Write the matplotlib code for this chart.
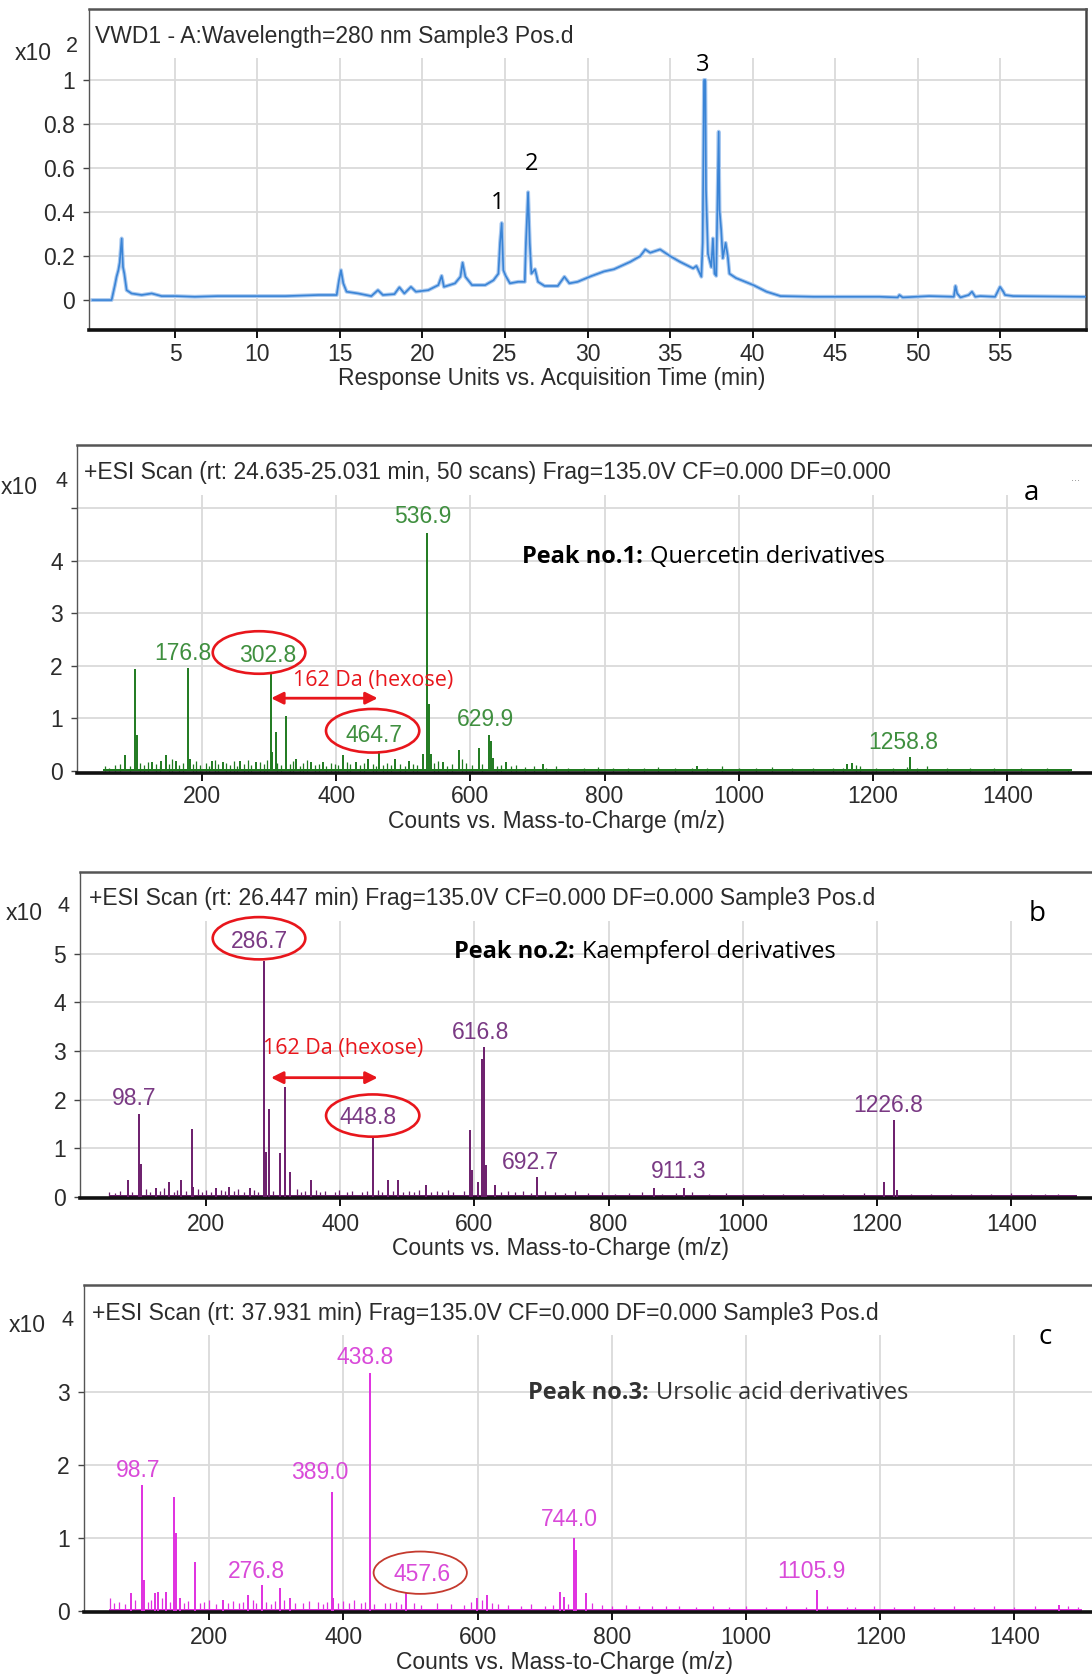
import matplotlib
matplotlib.use('Agg')
import matplotlib.pyplot as plt
from matplotlib.patches import Ellipse

W, H = 1092, 1679

# ---------------- data ----------------
# UV chromatogram (x10^2 response units vs. min)
chrom_time = [0.0, 1.16, 1.36, 1.46, 1.57, 1.65, 1.77, 1.85, 1.93, 2.07,
              2.37, 2.98, 3.59, 4.19, 5.0, 6.2, 7.6, 9.6, 11.7, 13.7,
              14.8, 14.94, 15.06, 15.2, 15.4, 16.1, 16.9, 17.3, 17.6, 18.3,
              18.6, 18.9, 19.3, 19.6, 20.35, 20.96, 21.16, 21.3, 21.97, 22.3,
              22.43, 22.6, 23.0, 23.8, 24.3, 24.6, 24.7, 24.8, 24.9, 25.04,
              25.3, 25.8, 26.2, 26.27, 26.4, 26.5, 26.6, 26.82, 27.0, 27.4,
              28.2, 28.6, 28.9, 29.4, 30.2, 31.0, 31.6, 32.6, 33.2, 33.5,
              33.8, 34.4, 35.0, 35.6, 36.4, 36.6, 36.9, 36.98, 37.06, 37.14,
              37.18, 37.3, 37.5, 37.6, 37.7, 37.8, 37.95, 38.0, 38.1, 38.2,
              38.37, 38.5, 38.6, 39.0, 40.05, 40.85, 41.7, 43.7, 47.7, 48.8,
              48.9, 49.1, 50.7, 52.2, 52.3, 52.4, 52.6, 53.1, 53.3, 53.5,
              53.8, 54.7, 55.0, 55.2, 55.3, 55.8, 59.9, 60.2]
chrom_resp = [0.0, 0.0, 0.068, 0.106, 0.136, 0.17, 0.28, 0.15, 0.12, 0.045,
              0.03, 0.023, 0.03, 0.018, 0.018, 0.015, 0.018, 0.018, 0.018, 0.023,
              0.023, 0.09, 0.136, 0.076, 0.038, 0.03, 0.018, 0.045, 0.023, 0.027,
              0.058, 0.03, 0.06, 0.038, 0.045, 0.068, 0.11, 0.06, 0.076, 0.106,
              0.17, 0.106, 0.068, 0.068, 0.09, 0.12, 0.26, 0.35, 0.136, 0.11,
              0.076, 0.083, 0.083, 0.26, 0.49, 0.26, 0.12, 0.14, 0.083, 0.064,
              0.064, 0.106, 0.076, 0.083, 0.108, 0.13, 0.14, 0.174, 0.20, 0.23,
              0.215, 0.23, 0.2, 0.174, 0.144, 0.155, 0.106, 0.26, 1.0, 1.0,
              0.5, 0.21, 0.15, 0.28, 0.12, 0.11, 0.765, 0.41, 0.32, 0.19,
              0.26, 0.2, 0.12, 0.1, 0.068, 0.038, 0.018, 0.015, 0.015, 0.012,
              0.023, 0.012, 0.018, 0.015, 0.064, 0.03, 0.012, 0.023, 0.038, 0.015,
              0.018, 0.015, 0.06, 0.038, 0.023, 0.018, 0.015, 0.015]
chrom_xticks = [5, 10, 15, 20, 25, 30, 35, 40, 45, 50, 55]
chrom_yticks = [0, 0.2, 0.4, 0.6, 0.8, 1.0]
chrom_yticklabels = ['0', '0.2', '0.4', '0.6', '0.8', '1']
peak_numbers = ['1', '2', '3']
peak_number_pos = [(24.56, 0.44), (26.6, 0.62), (37.0, 1.068)]

ms_xticks = [200, 400, 600, 800, 1000, 1200, 1400]

# Spectrum a (x10^4 counts)
a_mz = [85.7, 100.6, 103, 126, 139, 146, 161, 178.6, 182, 215,
        231, 256, 280, 303, 305, 310, 325, 340, 362, 380,
        410, 429, 448, 464, 487, 509, 529, 535.3, 538, 541,
        559, 583, 613, 628, 631, 633, 653, 708, 937, 1161,
        1168, 1255]
a_int = [0.29, 1.94, 0.67, 0.16, 0.19, 0.29, 0.19, 1.95, 0.22, 0.19,
         0.16, 0.19, 0.16, 1.84, 0.35, 0.73, 1.05, 0.22, 0.16, 0.16,
         0.29, 0.16, 0.22, 0.38, 0.22, 0.19, 0.32, 4.52, 1.27, 0.32,
         0.16, 0.39, 0.43, 0.67, 0.57, 0.25, 0.16, 0.13, 0.08, 0.13,
         0.15, 0.27]
a_noise_mz = [56, 62, 70, 78, 92, 108, 114, 119, 132, 137,
              151, 156, 166, 171, 186, 191, 197, 206, 211, 220,
              224, 236, 241, 247, 252, 262, 268, 273, 287, 292,
              297, 312, 318, 331, 336, 346, 351, 357, 368, 374,
              385, 392, 398, 403, 416, 421, 436, 441, 455, 459,
              470, 476, 481, 495, 503, 515, 520, 546, 551, 565,
              572, 588, 594, 602, 618, 640, 646, 660, 668, 682,
              695, 712, 728, 745, 770, 790, 812, 835, 858, 880,
              905, 930, 952, 975, 1000, 1025, 1050, 1080, 1110, 1140,
              1155, 1175, 1180, 1205, 1230, 1250, 1265, 1280, 1310, 1345,
              1380, 1420, 1460, 1490]
a_noise_int = [0.08, 0.06, 0.10, 0.12, 0.09, 0.14, 0.10, 0.16, 0.12, 0.09,
               0.13, 0.22, 0.10, 0.15, 0.12, 0.18, 0.10, 0.14, 0.09, 0.20,
               0.12, 0.15, 0.11, 0.18, 0.09, 0.13, 0.21, 0.10, 0.16, 0.12,
               0.20, 0.15, 0.10, 0.12, 0.18, 0.09, 0.14, 0.20, 0.11, 0.13,
               0.09, 0.15, 0.12, 0.10, 0.17, 0.12, 0.10, 0.14, 0.12, 0.09,
               0.11, 0.15, 0.10, 0.13, 0.09, 0.12, 0.10, 0.14, 0.18, 0.09,
               0.12, 0.22, 0.15, 0.10, 0.12, 0.09, 0.11, 0.08, 0.10, 0.07,
               0.09, 0.06, 0.08, 0.06, 0.05, 0.07, 0.05, 0.06, 0.05, 0.07,
               0.05, 0.06, 0.05, 0.08, 0.06, 0.05, 0.07, 0.05, 0.06, 0.05,
               0.06, 0.10, 0.08, 0.06, 0.05, 0.07, 0.06, 0.09, 0.06, 0.05,
               0.06, 0.05, 0.06, 0.04]
a_labels = ['536.9', '176.8', '302.8', '464.7', '629.9', '1258.8']
a_label_pos = [(529, 4.83), (171, 2.23), (298, 2.19), (457, 0.67), (622, 0.97), (1245, 0.54)]

# Spectrum b
b_mz = [84, 99.6, 103, 125, 145, 163, 179, 181, 215, 235,
        265, 287, 289.4, 294, 310, 318, 325, 356, 448.4, 471,
        486, 528, 594, 596.4, 605, 612, 615, 618, 631, 693,
        867, 912, 1211, 1226, 1230]
b_int = [0.34, 1.71, 0.68, 0.17, 0.31, 0.34, 1.40, 0.20, 0.17, 0.20,
         0.17, 4.86, 0.92, 1.81, 0.89, 2.26, 0.51, 0.34, 1.20, 0.34,
         0.34, 0.24, 1.37, 0.55, 0.31, 2.84, 3.08, 0.65, 0.24, 0.41,
         0.17, 0.17, 0.31, 1.58, 0.14]
b_noise_mz = [56, 64, 72, 90, 110, 116, 132, 138, 152, 157,
              170, 188, 194, 200, 208, 222, 228, 242, 248, 256,
              272, 278, 300, 335, 342, 348, 364, 370, 378, 392,
              398, 410, 418, 432, 440, 456, 462, 478, 494, 502,
              510, 518, 536, 544, 552, 560, 568, 584, 640, 650,
              660, 672, 684, 705, 720, 735, 750, 770, 790, 810,
              830, 850, 880, 900, 925, 950, 975, 1000, 1030, 1060,
              1090, 1120, 1150, 1180, 1250, 1280, 1310, 1340, 1370, 1400,
              1430, 1450, 1470, 1490]
b_noise_int = [0.10, 0.08, 0.12, 0.09, 0.15, 0.10, 0.12, 0.17, 0.10, 0.14,
               0.12, 0.15, 0.10, 0.13, 0.09, 0.14, 0.11, 0.12, 0.16, 0.10,
               0.13, 0.10, 0.12, 0.15, 0.10, 0.12, 0.14, 0.09, 0.12, 0.10,
               0.13, 0.10, 0.12, 0.09, 0.11, 0.14, 0.10, 0.12, 0.09, 0.11,
               0.10, 0.13, 0.09, 0.12, 0.10, 0.14, 0.10, 0.12, 0.10, 0.12,
               0.09, 0.11, 0.08, 0.12, 0.10, 0.08, 0.12, 0.07, 0.09, 0.06,
               0.07, 0.09, 0.06, 0.08, 0.09, 0.06, 0.07, 0.05, 0.06, 0.05,
               0.06, 0.05, 0.06, 0.07, 0.06, 0.05, 0.06, 0.05, 0.06, 0.07,
               0.05, 0.06, 0.05, 0.04]
b_labels = ['286.7', '98.7', '448.8', '616.8', '692.7', '911.3', '1226.8']
b_label_pos = [(279.5, 5.25), (93, 2.02), (441, 1.62), (609, 3.39), (683, 0.71), (904, 0.51), (1217, 1.88)]

# Spectrum c
c_mz = [83, 99, 102.5, 119, 124, 136, 148, 150, 156, 179,
        221, 258, 278, 305, 320, 382.6, 385, 438.8, 493.5, 599,
        614, 723, 728, 743, 747, 761, 1106, 1466]
c_int = [0.24, 1.72, 0.42, 0.24, 0.26, 0.26, 1.56, 1.06, 0.17, 0.67,
         0.15, 0.21, 0.35, 0.31, 0.17, 1.63, 0.17, 3.25, 0.24, 0.17,
         0.21, 0.26, 0.19, 0.99, 0.83, 0.24, 0.28, 0.08]
c_noise_mz = [52, 58, 66, 74, 90, 108, 113, 130, 141, 162,
              168, 186, 192, 200, 210, 228, 236, 244, 250, 265,
              270, 285, 292, 298, 312, 328, 340, 348, 362, 370,
              376, 392, 400, 408, 415, 426, 432, 446, 462, 470,
              478, 486, 505, 515, 540, 560, 580, 590, 606, 622,
              630, 645, 665, 680, 700, 712, 735, 770, 785, 800,
              821, 840, 860, 880, 900, 925, 950, 975, 1000, 1030,
              1060, 1090, 1120, 1150, 1162, 1190, 1220, 1250, 1280, 1310,
              1340, 1370, 1400, 1430, 1480, 1495]
c_noise_int = [0.18, 0.10, 0.12, 0.09, 0.14, 0.12, 0.15, 0.18, 0.12, 0.10,
               0.13, 0.10, 0.12, 0.15, 0.09, 0.11, 0.13, 0.10, 0.12, 0.14,
               0.10, 0.12, 0.09, 0.13, 0.14, 0.11, 0.10, 0.13, 0.12, 0.09,
               0.12, 0.10, 0.13, 0.11, 0.14, 0.10, 0.12, 0.09, 0.11, 0.10,
               0.12, 0.09, 0.11, 0.08, 0.10, 0.09, 0.08, 0.12, 0.14, 0.10,
               0.09, 0.08, 0.07, 0.09, 0.07, 0.08, 0.09, 0.10, 0.08, 0.07,
               0.08, 0.06, 0.07, 0.06, 0.07, 0.05, 0.06, 0.05, 0.06, 0.05,
               0.06, 0.05, 0.06, 0.05, 0.05, 0.06, 0.05, 0.06, 0.05, 0.06,
               0.05, 0.06, 0.05, 0.06, 0.07, 0.05]
c_labels = ['438.8', '98.7', '389.0', '276.8', '457.6', '744.0', '1105.9']
c_label_pos = [(432, 3.47), (94, 1.92), (364, 1.89), (270, 0.54), (517, 0.50), (736, 1.25), (1097.5, 0.53)]

# ---------------- drawing ----------------
plt.rcParams['font.family'] = ['Liberation Sans', 'DejaVu Sans']
fig = plt.figure(figsize=(W / 100, H / 100), dpi=100)

TXT = '#2b2b2b'
GRID = '#dadada'
TFS = 16.5
SANS2 = ['Open Sans', 'DejaVu Sans']


def rect(l, t, r, b):
    return [l / W, 1 - b / H, (r - l) / W, (b - t) / H]


def fpos(x, y):
    return x / W, 1 - y / H


def style(ax, right=False, xpad=4.0):
    ax.set_facecolor('white')
    ax.spines['bottom'].set_linewidth(2.6)
    ax.spines['bottom'].set_color('#111111')
    ax.spines['top'].set_linewidth(1.8)
    ax.spines['top'].set_color('#555555')
    ax.spines['left'].set_linewidth(1.0)
    ax.spines['left'].set_color('#555555')
    if right:
        ax.spines['right'].set_linewidth(1.8)
        ax.spines['right'].set_color('#444444')
    else:
        ax.spines['right'].set_visible(False)
    ax.tick_params(axis='x', direction='out', length=6, width=1.4, color='#111111',
                   labelsize=TFS, labelcolor=TXT, pad=xpad)
    ax.tick_params(axis='y', direction='out', length=4, width=1.0, color='#444444',
                   labelsize=TFS, labelcolor=TXT, pad=6)


# ---- top chromatogram ----
ax0 = fig.add_axes(rect(89, 9.5, 1086, 330))
ax0.set_xlim(-0.21, 60.21)
ax0.set_ylim(-0.136, 1.32)
style(ax0, right=True, xpad=3.5)
for v in chrom_yticks:
    ax0.axhline(v, color=GRID, lw=1.3, zorder=0)
ax0.vlines(chrom_xticks, -0.136, 1.10, color=GRID, lw=1.3, zorder=0)
ax0.plot(chrom_time, chrom_resp, color='#a8c8ef', lw=2.8, zorder=2, solid_joinstyle='round')
ax0.plot(chrom_time, chrom_resp, color='#3a84d6', lw=1.2, zorder=3, solid_joinstyle='round')
ax0.set_xticks(chrom_xticks)
ax0.set_yticks(chrom_yticks)
ax0.set_yticklabels(chrom_yticklabels)
for s, (xx, yy) in zip(peak_numbers, peak_number_pos):
    ax0.text(xx, yy, s, fontsize=17, family=SANS2, color='black', ha='center', va='center')
fig.text(*fpos(95, 36), 'VWD1 - A:Wavelength=280 nm Sample3 Pos.d', fontsize=TFS,
         color=TXT, ha='left', va='center')
fig.text(*fpos(33, 54), 'x10', fontsize=TFS, color=TXT, ha='center', va='center')
fig.text(*fpos(72, 46), '2', fontsize=TFS - 1, color=TXT, ha='center', va='center')
fig.text(*fpos(552, 379), 'Response Units vs. Acquisition Time (min)', fontsize=TFS,
         color=TXT, ha='center', va='center')


def spectrum(box, xlim, ylim, yticks, yticklabels, grid_top, hgrid,
             mz, inten, nmz, nint, base, lcolor, lab, labpos, labcolor, xpad):
    ax = fig.add_axes(rect(*box))
    ax.set_xlim(*xlim)
    ax.set_ylim(*ylim)
    style(ax, right=False, xpad=xpad)
    for v in hgrid:
        ax.axhline(v, color=GRID, lw=1.3, zorder=0)
    ax.vlines(ms_xticks, ylim[0], grid_top, color=GRID, lw=1.3, zorder=0)
    ax.fill_between(base, 0, 0.035 * (ylim[1] / 6.2), color=lcolor, lw=0, zorder=2)
    ax.vlines(nmz, 0, nint, color=lcolor, lw=0.9, zorder=2)
    ax.vlines(mz, 0, inten, color=lcolor, lw=1.4, zorder=3)
    ax.set_xticks(ms_xticks)
    ax.set_yticks(yticks)
    ax.set_yticklabels(yticklabels)
    for s, (xx, yy) in zip(lab, labpos):
        ax.text(xx, yy, s, fontsize=TFS, color=labcolor, ha='center', va='center', zorder=5)
    return ax


RED = '#e8161c'

# ---- panel a ----
axa = spectrum((76.6, 445, 1092, 773), (13.1, 1526.4), (-0.044, 6.2),
               [0, 1, 2, 3, 4, 5], ['0', '1', '2', '3', '4', ''], 5.25, [1, 2, 3, 4, 5],
               a_mz, a_int, a_noise_mz, a_noise_int, [52, 1496], '#1f7a1f',
               a_labels, a_label_pos, '#3f8f3f', 2.5)
axa.add_patch(Ellipse((285, 2.25), 138, 0.81, fill=False, ec=RED, lw=1.9, zorder=6))
axa.add_patch(Ellipse((454.3, 0.76), 139, 0.83, fill=False, ec=RED, lw=1.9, zorder=6))
axa.text(454.3, 1.72, '162 Da (hexose)', fontsize=15.5, family=SANS2, color=RED,
         ha='center', va='center', zorder=6)
axa.annotate('', xy=(461.8, 1.38), xytext=(303, 1.38),
             arrowprops=dict(arrowstyle='<|-|>', color=RED, lw=2.0, mutation_scale=18,
                             shrinkA=0, shrinkB=0), zorder=6)
fig.text(*fpos(84, 472), '+ESI Scan (rt: 24.635-25.031 min, 50 scans) Frag=135.0V CF=0.000 DF=0.000',
         fontsize=TFS, color=TXT, ha='left', va='center')
fig.text(*fpos(19, 487), 'x10', fontsize=TFS, color=TXT, ha='center', va='center')
fig.text(*fpos(61, 482), '4', fontsize=TFS - 1, color=TXT, ha='center', va='center')
fig.text(*fpos(1031, 493), 'a', fontsize=20, family=SANS2, color='black', ha='center', va='center')
fig.text(*fpos(1076, 478), '...', fontsize=8, color='#888888', ha='center', va='center')
fig.text(*fpos(557, 822), 'Counts vs. Mass-to-Charge (m/z)', fontsize=TFS, color=TXT,
         ha='center', va='center')

# ---- panel b ----
axb = spectrum((80, 871.7, 1092, 1198), (12.2, 1520.4), (-0.027, 6.69),
               [0, 1, 2, 3, 4, 5], ['0', '1', '2', '3', '4', '5'], 5.67, [1, 2, 3, 4, 5],
               b_mz, b_int, b_noise_mz, b_noise_int, [55, 1498], '#6b1d6b',
               b_labels, b_label_pos, '#7a3a84', 4.5)
axb.add_patch(Ellipse((279, 5.32), 138, 0.87, fill=False, ec=RED, lw=1.9, zorder=6))
axb.add_patch(Ellipse((448.4, 1.67), 139, 0.87, fill=False, ec=RED, lw=1.9, zorder=6))
axb.text(404.7, 3.05, '162 Da (hexose)', fontsize=15.5, family=SANS2, color=RED,
         ha='center', va='center', zorder=6)
axb.annotate('', xy=(455.8, 2.45), xytext=(296.9, 2.45),
             arrowprops=dict(arrowstyle='<|-|>', color=RED, lw=2.0, mutation_scale=18,
                             shrinkA=0, shrinkB=0), zorder=6)
fig.text(*fpos(89, 898.5), '+ESI Scan (rt: 26.447 min) Frag=135.0V CF=0.000 DF=0.000 Sample3 Pos.d',
         fontsize=TFS, color=TXT, ha='left', va='center')
fig.text(*fpos(24, 913), 'x10', fontsize=TFS, color=TXT, ha='center', va='center')
fig.text(*fpos(64, 906), '4', fontsize=TFS - 1, color=TXT, ha='center', va='center')
fig.text(*fpos(1037, 914), 'b', fontsize=20, family=SANS2, color='black', ha='center', va='center')
fig.text(*fpos(561, 1249), 'Counts vs. Mass-to-Charge (m/z)', fontsize=TFS, color=TXT,
         ha='center', va='center')

# ---- panel c ----
axc = spectrum((83.6, 1285, 1092, 1611.7), (12.7, 1515.5), (-0.014, 4.46),
               [0, 1, 2, 3], ['0', '1', '2', '3'], 3.78, [1, 2, 3],
               c_mz, c_int, c_noise_mz, c_noise_int, [50, 1500], '#e030e0',
               c_labels, c_label_pos, '#d94ad9', 4.5)
axc.add_patch(Ellipse((514.4, 0.52), 139, 0.58, fill=False, ec='#c43a2e', lw=1.3, zorder=6))
fig.text(*fpos(92, 1313.5), '+ESI Scan (rt: 37.931 min) Frag=135.0V CF=0.000 DF=0.000 Sample3 Pos.d',
         fontsize=TFS, color=TXT, ha='left', va='center')
fig.text(*fpos(27, 1326), 'x10', fontsize=TFS, color=TXT, ha='center', va='center')
fig.text(*fpos(67, 1320), '4', fontsize=TFS - 1, color=TXT, ha='center', va='center')
fig.text(*fpos(1045, 1337), 'c', fontsize=20, family=SANS2, color='black', ha='center', va='center')
fig.text(*fpos(565, 1662), 'Counts vs. Mass-to-Charge (m/z)', fontsize=TFS, color=TXT,
         ha='center', va='center')

# ---- "Peak no." captions (bold + regular) ----
renderer = fig.canvas.get_renderer()


def caption(x, y, bold, regular, color):
    t1 = fig.text(*fpos(x, y), bold, family=SANS2, fontweight='bold', fontsize=17,
                  color=color, ha='left', va='center')
    bb = t1.get_window_extent(renderer=renderer)
    fig.text((bb.x1 + 7) / W, 1 - y / H, regular, family=SANS2, fontsize=17,
             color=color, ha='left', va='center')


caption(522, 557, 'Peak no.1:', 'Quercetin derivatives', 'black')
caption(454, 952, 'Peak no.2:', 'Kaempferol derivatives', 'black')
caption(528, 1393, 'Peak no.3:', 'Ursolic acid derivatives', '#333333')

fig.savefig('out.png', dpi=100, facecolor='white')
